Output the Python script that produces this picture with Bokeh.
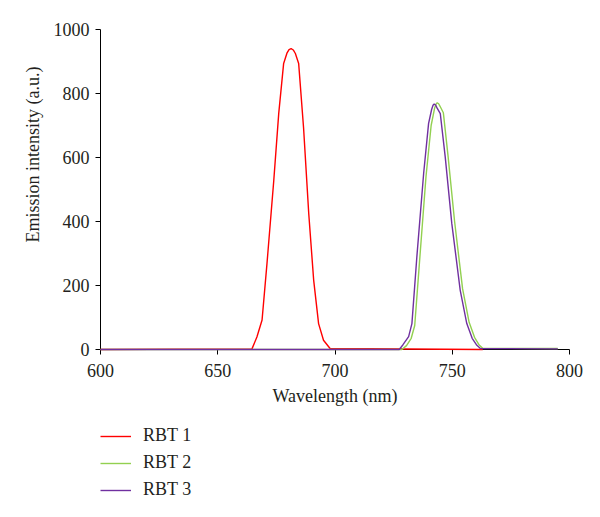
from bokeh.plotting import figure
from bokeh.layouts import column
from bokeh.models import Legend, LegendItem, Title, FixedTicker, Range1d
from bokeh.embed import file_html
from bokeh.resources import INLINE

# Data
rbt1_x = [600, 664.6, 666.7, 668.9, 671.0, 673.9, 676.0, 678.1, 679.5, 680.4, 681.3, 682.2, 683.1, 684.5, 686.6, 688.8, 690.9, 693.0, 695.1, 697.9, 763]
rbt1_y = [0, 2, 39, 92, 269, 529, 737, 894, 926, 937, 940, 936, 925, 894, 692, 425, 217, 81, 29, 3, 0]

rbt2_x = [600, 728.5, 730.5, 732.5, 734.0, 736.0, 738.8, 741.0, 742.5, 743.1, 743.6, 744.2, 744.8, 746.2, 748.2, 751.0, 754.4, 757.2, 759.5, 761.5, 763, 795]
rbt2_y = [0, 0, 12, 35, 75, 270, 540, 700, 755, 767, 771, 768, 760, 740, 605, 400, 190, 85, 38, 14, 4, 3]

rbt3_x = [600, 727.4, 729.0, 731.4, 732.8, 734.9, 737.8, 739.9, 741.2, 741.8, 742.3, 742.9, 743.5, 744.9, 747.0, 749.8, 753.4, 756.2, 758.5, 760.5, 762, 795]
rbt3_y = [0, 0, 15, 40, 81, 289, 550, 706, 750, 763, 767, 764, 755, 737, 602, 394, 185, 81, 35, 13, 3, 2]

x_ticks = [600, 650, 700, 750, 800]
y_ticks = [0, 200, 400, 600, 800, 1000]
series_names = ["RBT 1", "RBT 2", "RBT 3"]
colors = ["#ff0000", "#92d050", "#7030a0"]

FONT = "Liberation Serif"
TXT = "#231f20"

p = figure(frame_width=469, frame_height=320, output_backend="svg", toolbar_location=None,
           x_range=Range1d(600, 800), y_range=Range1d(0, 1000))
p.min_border_left = 100
p.min_border_top = 29
p.min_border_right = 15
p.min_border_bottom = 0
p.outline_line_color = None
p.xgrid.visible = False
p.ygrid.visible = False

for ax in (p.xaxis[0], p.yaxis[0]):
    ax.axis_line_color = "black"
    ax.axis_line_width = 1
    ax.major_tick_line_color = "black"
    ax.minor_tick_line_color = None
    ax.major_tick_in = 0
    ax.major_label_text_font = FONT
    ax.major_label_text_font_size = "18px"
    ax.major_label_text_color = TXT
    ax.axis_label_text_font = FONT
    ax.axis_label_text_font_size = "18px"
    ax.axis_label_text_color = TXT
    ax.axis_label_text_font_style = "normal"

p.xaxis.ticker = FixedTicker(ticks=x_ticks)
p.yaxis.ticker = FixedTicker(ticks=y_ticks)
p.xaxis.major_tick_out = 5
p.yaxis.major_tick_out = 5
p.xaxis.major_label_standoff = 9
p.yaxis.major_label_standoff = 6
p.xaxis.axis_label = "Wavelength (nm)"
p.xaxis.axis_label_standoff = 6

series = [(rbt1_x, rbt1_y), (rbt2_x, rbt2_y), (rbt3_x, rbt3_y)]
for (xs, ys), c in zip(series, colors):
    p.line(xs, ys, line_color=c, line_width=1.4, level="overlay")

ytitle = Title(text="Emission intensity (a.u.)", align="right", offset=37,
               text_font=FONT, text_font_size="18px", text_color=TXT,
               text_font_style="normal", standoff=16)
p.add_layout(ytitle, "left")

# Legend panel (separate small figure below the chart); its lines carry the
# same data, which lies outside this panel's ranges, so only the legend shows.
lf = figure(width=584, height=100, output_backend="svg", toolbar_location=None,
            x_range=Range1d(0, 1), y_range=Range1d(0, 1),
            x_axis_type=None, y_axis_type=None)
lf.min_border = 0
lf.outline_line_color = None
lf.grid.visible = False
lr = [lf.line(xs, ys, line_color=c, line_width=1.4) for (xs, ys), c in zip(series, colors)]

legend = Legend(items=[LegendItem(label=n, renderers=[r]) for n, r in zip(series_names, lr)],
                location=(0, 8), orientation="vertical",
                glyph_width=31, glyph_height=20, label_height=20,
                label_standoff=12, spacing=6, padding=0, margin=0,
                border_line_color=None, background_fill_alpha=0,
                label_text_font=FONT, label_text_font_size="18px",
                label_text_color=TXT)
lf.add_layout(legend)

open("out.html", "w").write(file_html(column(p, lf), INLINE))
